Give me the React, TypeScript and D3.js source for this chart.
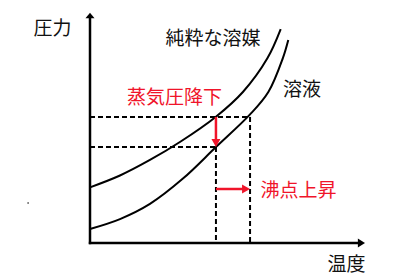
import React from "react";
import * as d3 from "d3";

// Vapor pressure curves (temperature, pressure) in arbitrary units
const pureSolventT = [0, 10.9, 21.8, 32.7, 45.8, 55.6, 64.5, 69.35];
const pureSolventP = [24.2, 29.35, 36.1, 43.9, 54.9, 65.65, 80.3, 93.0];
const solutionT = [0, 10.9, 21.8, 33.8, 45.8, 58.2, 64.85, 70.1, 72.1];
const solutionP = [6.1, 10.4, 17.0, 28.0, 41.7, 55.9, 65.65, 80.3, 88.3];

// Reference levels
const atmPressure = [54.8];
const loweredPressure = [41.7];
const boilingPoints = [45.8, 58.2]; // pure solvent, solution

const labels = {
  yAxis: "圧力",
  xAxis: "温度",
  pure: "純粋な溶媒",
  solution: "溶液",
  vaporDrop: "蒸気圧降下",
  bpRise: "沸点上昇",
};

const W = 411;
const H = 276;
const FONT = "'Noto Sans CJK JP', 'Noto Sans', sans-serif";
const RED = "#f0142a";

export default function App() {
  const x = d3.scaleLinear().domain([0, 100]).range([90, 365]);
  const y = d3.scaleLinear().domain([0, 100]).range([243, 13]);

  const line = d3
    .line<[number, number]>()
    .x((d) => x(d[0]))
    .y((d) => y(d[1]))
    .curve(d3.curveCatmullRom.alpha(0.5));

  const pure = pureSolventT.map((t, i) => [t, pureSolventP[i]] as [number, number]);
  const sol = solutionT.map((t, i) => [t, solutionP[i]] as [number, number]);

  const x0 = x(0);
  const y0 = y(0);
  const tPure = boilingPoints[0];
  const tSol = boilingPoints[1];
  const pAtm = atmPressure[0];
  const pLow = loweredPressure[0];

  const dash = "5,3";
  const arrowY = 189;

  return (
    <svg
      width={W}
      height={H}
      style={{ position: "absolute", left: 0, top: 0, display: "block", background: "#fff" }}
    >
      <rect width={W} height={H} fill="#fff" />
      {/* stray dot */}
      <rect x={27.5} y={202} width={1.2} height={2} fill="#555" />

      {/* dashed guides */}
      <g stroke="#000" strokeWidth={2} strokeDasharray={dash} fill="none">
        <line x1={x0} x2={x(tSol)} y1={y(pAtm)} y2={y(pAtm)} />
        <line x1={x0} x2={x(tPure)} y1={y(pLow)} y2={y(pLow)} />
        <line x1={x(tPure)} x2={x(tPure)} y1={y(pLow)} y2={y0} />
        <line x1={x(tSol)} x2={x(tSol)} y1={y(pAtm)} y2={y0} />
      </g>

      {/* curves */}
      <path d={line(pure) || ""} fill="none" stroke="#000" strokeWidth={2} />
      <path d={line(sol) || ""} fill="none" stroke="#000" strokeWidth={2} />

      {/* axes */}
      <g stroke="#000" strokeWidth={2.5}>
        <line x1={x0} x2={x0} y1={y0 + 1.2} y2={y(98)} />
        <line x1={x0 - 1.2} x2={x(98)} y1={y0} y2={y0} />
      </g>
      <path
        d={`M${x0},${y(100) - 0.3} L${x0 - 4.5},${y(97.7)} L${x0 + 4.5},${y(97.7)} Z`}
        fill="#000"
      />
      <path
        d={`M${x(100)},${y0} L${x(97.4)},${y0 - 4.5} L${x(97.4)},${y0 + 4.5} Z`}
        fill="#000"
      />

      {/* red arrows */}
      <g stroke={RED} strokeWidth={2.5} fill="none">
        <line x1={x(tPure)} x2={x(tPure)} y1={y(pAtm)} y2={y(pLow) - 6} />
        <line x1={x(tPure)} x2={x(tSol) - 6} y1={arrowY} y2={arrowY} />
      </g>
      <path
        d={`M${x(tPure)},${y(pLow)} L${x(tPure) - 4.5},${y(pLow) - 8} L${x(tPure) + 4.5},${y(pLow) - 8} Z`}
        fill={RED}
      />
      <path
        d={`M${x(tSol)},${arrowY} L${x(tSol) - 8},${arrowY - 4.5} L${x(tSol) - 8},${arrowY + 4.5} Z`}
        fill={RED}
      />

      {/* text */}
      <g fontFamily={FONT} fontSize={19} dominantBaseline="central" textAnchor="middle">
        <text x={52.5} y={26} fill="#111">{labels.yAxis}</text>
        <text x={346.5} y={262} fill="#111">{labels.xAxis}</text>
        <text x={213} y={36.5} fill="#111">{labels.pure}</text>
        <text x={302} y={87.5} fill="#111">{labels.solution}</text>
        <text x={174.5} y={95} fill={RED}>{labels.vaporDrop}</text>
        <text x={298.5} y={188} fill={RED}>{labels.bpRise}</text>
      </g>
    </svg>
  );
}
